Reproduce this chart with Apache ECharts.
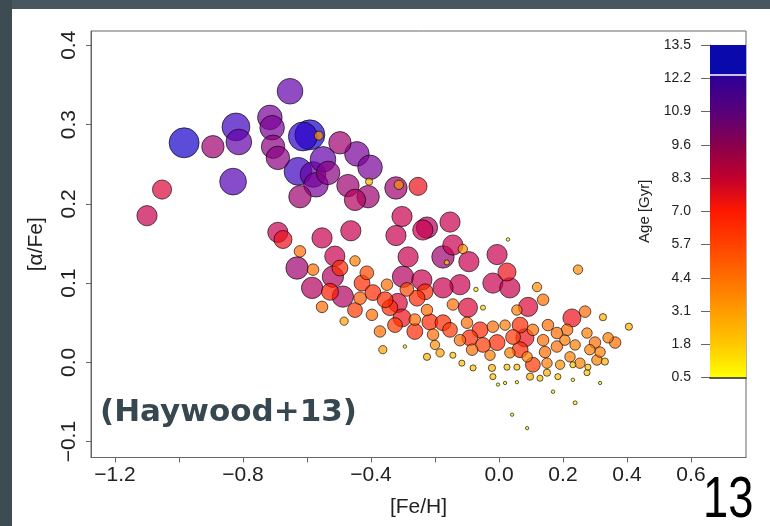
<!DOCTYPE html>
<html><head><meta charset="utf-8">
<script src="https://cdn.jsdelivr.net/npm/echarts@6/dist/echarts.min.js"></script>
<style>html,body{margin:0;padding:0;background:#fff}#c{width:770px;height:526px}</style>
</head><body><div id="c"></div>
<script>
// [Fe/H] of each star
const feh = [-0.653,-0.984,-0.894,-0.822,-0.813,-0.831,-1.053,-1.1,-0.716,-0.709,
 -0.706,-0.691,-0.613,-0.591,-0.563,-0.628,-0.581,-0.534,-0.55,-0.497,
 -0.444,-0.403,-0.622,-0.572,-0.472,-0.45,-0.409,-0.406,-0.322,-0.313,
 -0.253,-0.303,-0.322,-0.238,-0.225,-0.153,-0.144,-0.113,0.028,-0.006,
 -0.463,-0.553,-0.622,-0.675,-0.691,-0.513,-0.45,-0.284,-0.175,-0.094,
 -0.631,-0.581,-0.519,-0.497,-0.584,-0.528,-0.488,-0.553,-0.413,-0.428,
 -0.394,-0.434,-0.35,-0.3,-0.241,-0.288,-0.231,-0.256,-0.316,-0.341,
 -0.303,-0.263,-0.372,-0.225,-0.216,-0.175,-0.206,-0.484,-0.363,-0.294,
 -0.163,-0.122,-0.175,0.025,-0.019,0.034,-0.072,-0.144,-0.097,-0.05,
 0.119,0.138,0.091,0.056,0.247,0.228,0.269,0.325,0.406,0.363,
 0.3,0.213,0.275,-0.1,-0.059,-0.019,-0.006,0.044,0.081,0.106,
 0.138,0.181,0.181,-0.05,-0.122,-0.084,0.034,0.088,0.106,0.15,
 0.222,0.253,0.306,0.316,-0.225,-0.184,-0.144,-0.116,-0.081,-0.022,
 -0.019,0.025,0.056,0.097,0.128,0.15,0.184,0.231,0.275,0.278,
 0.331,-0.003,0.019,0.056,0.169,0.231,0.238,0.316,0.041,0.088,
 -0.153,0.019,0.066,0.153,0.206,0.284,0.341,-0.091,-0.028,0.066,
 0.144,0.191,0.238,-0.2,-0.263,-0.325,-0.397,-0.45,-0.356];
// [alpha/Fe] of each star
const alphaFe = [0.342,0.277,0.272,0.297,0.278,0.228,0.218,0.185,0.309,0.296,
 0.272,0.258,0.285,0.287,0.286,0.241,0.237,0.239,0.256,0.277,
 0.263,0.246,0.209,0.224,0.223,0.205,0.209,0.228,0.22,0.224,
 0.222,0.184,0.16,0.167,0.17,0.177,0.148,0.143,0.155,0.136,
 0.166,0.157,0.14,0.155,0.164,0.134,0.128,0.133,0.133,0.127,
 0.119,0.117,0.108,0.119,0.094,0.089,0.083,0.07,0.113,0.1,
 0.088,0.081,0.098,0.108,0.104,0.092,0.089,0.081,0.075,0.069,
 0.056,0.039,0.039,0.066,0.051,0.05,0.035,0.052,0.016,0.02,
 0.126,0.098,0.094,0.114,0.1,0.094,0.092,0.073,0.069,0.069,
 0.095,0.079,0.07,0.066,0.117,0.056,0.064,0.057,0.045,0.025,
 0.025,0.041,0.037,0.05,0.041,0.045,0.025,0.032,0.031,0.041,
 0.028,0.037,0.02,0.022,0.028,0.016,0.012,0.007,-0.003,-0.001,
 0.007,-0.001,0.003,0.013,0.007,0.012,0.009,-0.001,-0.007,-0.007,
 -0.018,-0.006,-0.006,-0.018,-0.02,-0.013,-0.018,-0.003,-0.013,-0.006,
 0.001,-0.028,-0.026,-0.025,-0.037,-0.022,-0.051,-0.026,-0.066,-0.083,
 0.041,0.047,0.047,0.047,0.028,0.016,0.031,0.031,0.009,0.016,
 0.013,-0.003,0.022,0.022,0.054,0.047,0.06,0.066,0.079];
// Age [Gyr] of each star
const age = [11,13,9.5,12,11,11.5,8,8.5,10.5,10.5,
 10,10,12.5,13,3.3,12,11,10,11,9.5,
 10.5,10.5,9.5,10.5,9.5,9,9.5,2.5,9.5,3.5,
 7.5,8.5,8.5,8.5,9,8.5,8.5,3.5,0.8,8.5,
 8.5,8.5,4.5,7.5,8.5,8.5,4,8.5,9.5,8.5,
 9.5,4.5,9,6.5,9,7,9,4.5,5.5,6.5,
 6.5,5,4.5,9,8.5,5.5,6.5,6.5,8,6.5,
 7.5,6.5,4.5,4.5,6.5,6.5,4.5,3,3,0.8,
 1.5,8.5,8.5,7.5,8.5,8.5,1.2,4.5,8,1.5,
 3.5,4.5,8,4,3.5,7.5,4.5,2.5,2.5,4.5,
 4.5,4.5,4,4.5,6.5,4.5,6.5,6,7.5,4.5,
 4.5,4.5,4.5,6,4.5,4.5,4,4,6,4,
 4,4,4,4,2.5,3,2,2,2,2.5,
 2,2,2,2.5,2,2.5,2,2,2,2,
 2.5,0.7,0.7,0.7,0.8,0.8,1,0.7,0.7,0.7,
 6,4,6.5,4.5,4,4,4,6.5,4,6.5,
 4.5,3.5,4,3.5,4.5,6,4.5,6,6.5];

const xTicks = [-1.2,-1.0,-0.8,-0.6,-0.4,-0.2,0.0,0.2,0.4,0.6];
const xLabels = [-1.2,-0.8,-0.4,0.0,0.2,0.4,0.6];
const yTicks = [-0.1,0.0,0.1,0.2,0.3,0.4];
const ageTicks = [0.5,1.8,3.1,4.4,5.7,7.0,8.3,9.6,10.9,12.2,13.5];
const ageColors = ['#ffff00','#ffc800','#ff9c00','#ff6e00','#ff4200','#ff1800','#d00048','#980070','#6800a8','#3800c0','#0000d0'];
const whiteLineAge = 12.35;
const colorbarValue = [13.5];

const order = age.map((a,i)=>i).sort((i,j)=>age[j]-age[i]);
const points = order.map(i=>[feh[i], alphaFe[i], age[i]]);

const minus = s => s.replace('-', '\u2212');
const ageMin = ageTicks[0], ageMax = ageTicks[ageTicks.length-1];
const gradStops = [];
ageTicks.forEach((t,k)=>{
  if (k === ageTicks.length-1) {
    gradStops.push({offset:(whiteLineAge-ageMin)/(ageMax-ageMin), color: '#2c0096'});
    gradStops.push({offset:(whiteLineAge-ageMin)/(ageMax-ageMin)+0.001, color: '#0a0aac'});
    gradStops.push({offset:1, color: '#0a0aac'});
  } else if (k >= 6) {
    const dark = ['#c0002c','#88004c','#58007a','#300094'];
    gradStops.push({offset:(t-ageMin)/(ageMax-ageMin), color: dark[k-6]});
  } else {
    gradStops.push({offset:(t-ageMin)/(ageMax-ageMin), color: ageColors[k]});
  }
});

const chart = echarts.init(document.getElementById('c'), null, {renderer:'canvas'});
const axisFont = 'Liberation Sans, Arial, sans-serif';
chart.setOption({
  animation:false,
  backgroundColor:'#ffffff',
  grid:[
    {left:91, top:31, width:655, height:426.5, show:true, borderColor:'#666', borderWidth:1, backgroundColor:'transparent', outerBoundsMode:'none'},
    {left:710, top:45, width:36, height:332.5, show:false, outerBoundsMode:'none'}
  ],
  xAxis:[
    {type:'value', gridIndex:0, min:-1.275, max:0.772, splitLine:{show:false},
     axisLine:{onZero:false, lineStyle:{color:'#666'}},
     axisTick:{customValues:xTicks, length:5, lineStyle:{color:'#666'}},
     axisLabel:{customValues:xLabels, formatter:v=>minus(v.toFixed(1)), fontSize:21, color:'#222', margin:7, fontFamily:axisFont},
     name:'[Fe/H]', nameLocation:'middle', nameGap:39, nameTextStyle:{fontSize:21, color:'#222', fontFamily:axisFont}},
    {type:'category', gridIndex:1, data:[''], z:10, axisLine:{show:true, onZero:false, lineStyle:{color:'#222', width:1.5}}, axisTick:{show:false}, axisLabel:{show:false}}
  ],
  yAxis:[
    {type:'value', gridIndex:0, min:-0.12, max:0.418, splitLine:{show:false},
     axisLine:{show:true, onZero:false, lineStyle:{color:'#666'}},
     axisTick:{show:true, customValues:yTicks, length:5, lineStyle:{color:'#666'}},
     axisLabel:{customValues:yTicks, rotate:90, formatter:v=>minus(v.toFixed(1)), fontSize:21, color:'#222', margin:11, fontFamily:axisFont},
     name:'[\u03b1/Fe]', nameLocation:'middle', nameRotate:90, nameGap:44, nameTextStyle:{fontSize:21, color:'#222', fontFamily:axisFont}},
    {type:'value', gridIndex:1, min:ageMin, max:ageMax, position:'left', splitLine:{show:false},
     axisLine:{show:true, onZero:false, lineStyle:{color:'#666'}},
     axisTick:{show:true, customValues:ageTicks, length:9, lineStyle:{color:'#666'}},
     axisLabel:{customValues:ageTicks, formatter:v=>v.toFixed(1), fontSize:14, color:'#222', margin:19, fontFamily:axisFont},
     name:'Age [Gyr]', nameLocation:'middle', nameRotate:90, nameGap:58, nameTextStyle:{fontSize:15, color:'#222', fontFamily:axisFont}}
  ],
  visualMap:{type:'continuous', show:false, seriesIndex:0, dimension:2, min:ageMin, max:ageMax, inRange:{color:ageColors}},
  series:[
    {type:'scatter', xAxisIndex:0, yAxisIndex:0, data:points, silent:true,
     symbolSize:v=>1.8+2.17*v[2],
     itemStyle:{opacity:0.7, borderColor:'#000', borderWidth:0.9}},
    {type:'bar', xAxisIndex:1, yAxisIndex:1, data:colorbarValue, barWidth:'100%', silent:true,
     itemStyle:{color:new echarts.graphic.LinearGradient(0,1,0,0,gradStops)},
     markLine:{silent:true, symbol:'none', label:{show:false}, lineStyle:{color:'#fff', width:1.5, type:'solid'}, data:[{yAxis:whiteLineAge}]}}
  ],
  graphic:[
    {type:'rect', shape:{x:0,y:0,width:770,height:9}, style:{fill:'#4a565d'}, z:100},
    {type:'rect', shape:{x:0,y:0,width:12,height:526}, style:{fill:'#3d4b53'}, z:100},
    {type:'text', x:100, y:413, z:100, style:{text:'(Haywood+13)', font:'bold 31px "DejaVu Sans", sans-serif', fill:'#37474f', verticalAlign:'middle'}},
    {type:'text', x:703, y:501, z:100, scaleX:0.78, style:{text:'13', font:'58px "Liberation Sans", sans-serif', fill:'#000', verticalAlign:'middle'}}
  ]
});
</script></body></html>
